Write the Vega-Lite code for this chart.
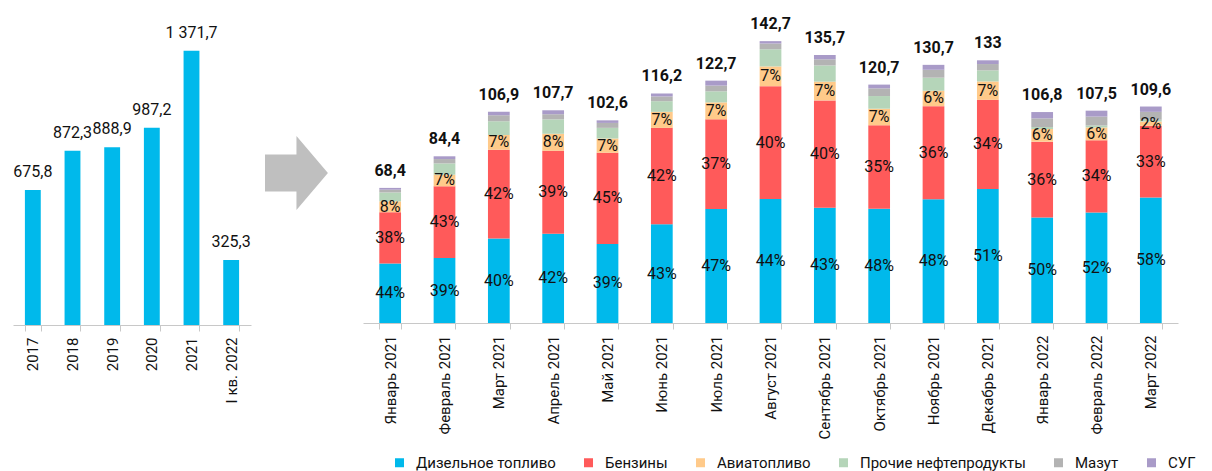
{
  "$schema": "https://vega.github.io/schema/vega-lite/v6.json",
  "padding": {"left": 6, "top": 5, "right": 0, "bottom": 0},
  "background": "white",
  "config": {
    "view": {"stroke": null},
    "font": "Roboto",
    "axis": {"labelFont": "Roboto", "labelFontSize": 15, "labelColor": "#111111", "domainColor": "#C8C8C8", "tickColor": "#C8C8C8", "tickSize": 6, "labelPadding": 6, "grid": false},
    "legend": {"labelFont": "Roboto", "labelFontSize": 15, "labelColor": "#111111", "labelLimit": 0}
  },
  "datasets": {
    "years": [
      {"y": "2017", "v": 675.8, "l": "675,8"},
      {"y": "2018", "v": 872.3, "l": "872,3"},
      {"y": "2019", "v": 888.9, "l": "888,9"},
      {"y": "2020", "v": 987.2, "l": "987,2"},
      {"y": "2021", "v": 1371.7, "l": "1 371,7"},
      {"y": "I кв. 2022", "v": 325.3, "l": "325,3"}
    ],
    "totals": [
      {"m": "Январь 2021", "t": 68.4, "l": "68,4"},
      {"m": "Февраль 2021", "t": 84.4, "l": "84,4"},
      {"m": "Март 2021", "t": 106.9, "l": "106,9"},
      {"m": "Апрель 2021", "t": 107.7, "l": "107,7"},
      {"m": "Май 2021", "t": 102.6, "l": "102,6"},
      {"m": "Июнь 2021", "t": 116.2, "l": "116,2"},
      {"m": "Июль 2021", "t": 122.7, "l": "122,7"},
      {"m": "Август 2021", "t": 142.7, "l": "142,7"},
      {"m": "Сентябрь 2021", "t": 135.7, "l": "135,7"},
      {"m": "Октябрь 2021", "t": 120.7, "l": "120,7"},
      {"m": "Ноябрь 2021", "t": 130.7, "l": "130,7"},
      {"m": "Декабрь 2021", "t": 133, "l": "133"},
      {"m": "Январь 2022", "t": 106.8, "l": "106,8"},
      {"m": "Февраль 2022", "t": 107.5, "l": "107,5"},
      {"m": "Март 2022", "t": 109.6, "l": "109,6"}
    ],
    "seg": [
      {"m": "Январь 2021", "c": "Дизельное топливо", "k": 1, "v": 30.1, "l": "44%"},
      {"m": "Январь 2021", "c": "Бензины", "k": 2, "v": 26.0, "l": "38%"},
      {"m": "Январь 2021", "c": "Авиатопливо", "k": 3, "v": 5.5, "l": "8%"},
      {"m": "Январь 2021", "c": "Прочие нефтепродукты", "k": 4, "v": 4.5, "l": ""},
      {"m": "Январь 2021", "c": "Мазут", "k": 5, "v": 1.4, "l": ""},
      {"m": "Январь 2021", "c": "СУГ", "k": 6, "v": 0.9, "l": ""},
      {"m": "Февраль 2021", "c": "Дизельное топливо", "k": 1, "v": 32.9, "l": "39%"},
      {"m": "Февраль 2021", "c": "Бензины", "k": 2, "v": 36.3, "l": "43%"},
      {"m": "Февраль 2021", "c": "Авиатопливо", "k": 3, "v": 5.9, "l": "7%"},
      {"m": "Февраль 2021", "c": "Прочие нефтепродукты", "k": 4, "v": 5.7, "l": ""},
      {"m": "Февраль 2021", "c": "Мазут", "k": 5, "v": 2.2, "l": ""},
      {"m": "Февраль 2021", "c": "СУГ", "k": 6, "v": 1.4, "l": ""},
      {"m": "Март 2021", "c": "Дизельное топливо", "k": 1, "v": 42.8, "l": "40%"},
      {"m": "Март 2021", "c": "Бензины", "k": 2, "v": 44.9, "l": "42%"},
      {"m": "Март 2021", "c": "Авиатопливо", "k": 3, "v": 7.5, "l": "7%"},
      {"m": "Март 2021", "c": "Прочие нефтепродукты", "k": 4, "v": 7.0, "l": ""},
      {"m": "Март 2021", "c": "Мазут", "k": 5, "v": 3.0, "l": ""},
      {"m": "Март 2021", "c": "СУГ", "k": 6, "v": 1.7, "l": ""},
      {"m": "Апрель 2021", "c": "Дизельное топливо", "k": 1, "v": 45.2, "l": "42%"},
      {"m": "Апрель 2021", "c": "Бензины", "k": 2, "v": 42.0, "l": "39%"},
      {"m": "Апрель 2021", "c": "Авиатопливо", "k": 3, "v": 8.6, "l": "8%"},
      {"m": "Апрель 2021", "c": "Прочие нефтепродукты", "k": 4, "v": 7.3, "l": ""},
      {"m": "Апрель 2021", "c": "Мазут", "k": 5, "v": 2.6, "l": ""},
      {"m": "Апрель 2021", "c": "СУГ", "k": 6, "v": 2.0, "l": ""},
      {"m": "Май 2021", "c": "Дизельное топливо", "k": 1, "v": 40.0, "l": "39%"},
      {"m": "Май 2021", "c": "Бензины", "k": 2, "v": 46.2, "l": "45%"},
      {"m": "Май 2021", "c": "Авиатопливо", "k": 3, "v": 7.2, "l": "7%"},
      {"m": "Май 2021", "c": "Прочие нефтепродукты", "k": 4, "v": 5.4, "l": ""},
      {"m": "Май 2021", "c": "Мазут", "k": 5, "v": 2.5, "l": ""},
      {"m": "Май 2021", "c": "СУГ", "k": 6, "v": 1.3, "l": ""},
      {"m": "Июнь 2021", "c": "Дизельное топливо", "k": 1, "v": 50.0, "l": "43%"},
      {"m": "Июнь 2021", "c": "Бензины", "k": 2, "v": 48.8, "l": "42%"},
      {"m": "Июнь 2021", "c": "Авиатопливо", "k": 3, "v": 8.1, "l": "7%"},
      {"m": "Июнь 2021", "c": "Прочие нефтепродукты", "k": 4, "v": 5.4, "l": ""},
      {"m": "Июнь 2021", "c": "Мазут", "k": 5, "v": 2.4, "l": ""},
      {"m": "Июнь 2021", "c": "СУГ", "k": 6, "v": 1.5, "l": ""},
      {"m": "Июль 2021", "c": "Дизельное топливо", "k": 1, "v": 57.7, "l": "47%"},
      {"m": "Июль 2021", "c": "Бензины", "k": 2, "v": 45.4, "l": "37%"},
      {"m": "Июль 2021", "c": "Авиатопливо", "k": 3, "v": 8.6, "l": "7%"},
      {"m": "Июль 2021", "c": "Прочие нефтепродукты", "k": 4, "v": 5.6, "l": ""},
      {"m": "Июль 2021", "c": "Мазут", "k": 5, "v": 2.9, "l": ""},
      {"m": "Июль 2021", "c": "СУГ", "k": 6, "v": 2.5, "l": ""},
      {"m": "Август 2021", "c": "Дизельное топливо", "k": 1, "v": 62.8, "l": "44%"},
      {"m": "Август 2021", "c": "Бензины", "k": 2, "v": 57.1, "l": "40%"},
      {"m": "Август 2021", "c": "Авиатопливо", "k": 3, "v": 10.0, "l": "7%"},
      {"m": "Август 2021", "c": "Прочие нефтепродукты", "k": 4, "v": 8.7, "l": ""},
      {"m": "Август 2021", "c": "Мазут", "k": 5, "v": 2.9, "l": ""},
      {"m": "Август 2021", "c": "СУГ", "k": 6, "v": 1.2, "l": ""},
      {"m": "Сентябрь 2021", "c": "Дизельное топливо", "k": 1, "v": 58.4, "l": "43%"},
      {"m": "Сентябрь 2021", "c": "Бензины", "k": 2, "v": 54.3, "l": "40%"},
      {"m": "Сентябрь 2021", "c": "Авиатопливо", "k": 3, "v": 9.5, "l": "7%"},
      {"m": "Сентябрь 2021", "c": "Прочие нефтепродукты", "k": 4, "v": 8.2, "l": ""},
      {"m": "Сентябрь 2021", "c": "Мазут", "k": 5, "v": 3.1, "l": ""},
      {"m": "Сентябрь 2021", "c": "СУГ", "k": 6, "v": 2.2, "l": ""},
      {"m": "Октябрь 2021", "c": "Дизельное топливо", "k": 1, "v": 57.9, "l": "48%"},
      {"m": "Октябрь 2021", "c": "Бензины", "k": 2, "v": 42.2, "l": "35%"},
      {"m": "Октябрь 2021", "c": "Авиатопливо", "k": 3, "v": 8.4, "l": "7%"},
      {"m": "Октябрь 2021", "c": "Прочие нефтепродукты", "k": 4, "v": 6.4, "l": ""},
      {"m": "Октябрь 2021", "c": "Мазут", "k": 5, "v": 3.9, "l": ""},
      {"m": "Октябрь 2021", "c": "СУГ", "k": 6, "v": 1.9, "l": ""},
      {"m": "Ноябрь 2021", "c": "Дизельное топливо", "k": 1, "v": 62.7, "l": "48%"},
      {"m": "Ноябрь 2021", "c": "Бензины", "k": 2, "v": 47.1, "l": "36%"},
      {"m": "Ноябрь 2021", "c": "Авиатопливо", "k": 3, "v": 7.8, "l": "6%"},
      {"m": "Ноябрь 2021", "c": "Прочие нефтепродукты", "k": 4, "v": 6.6, "l": ""},
      {"m": "Ноябрь 2021", "c": "Мазут", "k": 5, "v": 4.0, "l": ""},
      {"m": "Ноябрь 2021", "c": "СУГ", "k": 6, "v": 2.5, "l": ""},
      {"m": "Декабрь 2021", "c": "Дизельное топливо", "k": 1, "v": 67.8, "l": "51%"},
      {"m": "Декабрь 2021", "c": "Бензины", "k": 2, "v": 45.2, "l": "34%"},
      {"m": "Декабрь 2021", "c": "Авиатопливо", "k": 3, "v": 9.3, "l": "7%"},
      {"m": "Декабрь 2021", "c": "Прочие нефтепродукты", "k": 4, "v": 5.6, "l": ""},
      {"m": "Декабрь 2021", "c": "Мазут", "k": 5, "v": 3.2, "l": ""},
      {"m": "Декабрь 2021", "c": "СУГ", "k": 6, "v": 1.9, "l": ""},
      {"m": "Январь 2022", "c": "Дизельное топливо", "k": 1, "v": 53.4, "l": "50%"},
      {"m": "Январь 2022", "c": "Бензины", "k": 2, "v": 38.4, "l": "36%"},
      {"m": "Январь 2022", "c": "Авиатопливо", "k": 3, "v": 6.4, "l": "6%"},
      {"m": "Январь 2022", "c": "Прочие нефтепродукты", "k": 4, "v": 1.0, "l": ""},
      {"m": "Январь 2022", "c": "Мазут", "k": 5, "v": 4.4, "l": ""},
      {"m": "Январь 2022", "c": "СУГ", "k": 6, "v": 3.2, "l": ""},
      {"m": "Февраль 2022", "c": "Дизельное топливо", "k": 1, "v": 55.9, "l": "52%"},
      {"m": "Февраль 2022", "c": "Бензины", "k": 2, "v": 36.6, "l": "34%"},
      {"m": "Февраль 2022", "c": "Авиатопливо", "k": 3, "v": 6.5, "l": "6%"},
      {"m": "Февраль 2022", "c": "Прочие нефтепродукты", "k": 4, "v": 1.0, "l": ""},
      {"m": "Февраль 2022", "c": "Мазут", "k": 5, "v": 4.5, "l": ""},
      {"m": "Февраль 2022", "c": "СУГ", "k": 6, "v": 3.0, "l": ""},
      {"m": "Март 2022", "c": "Дизельное топливо", "k": 1, "v": 63.6, "l": "58%"},
      {"m": "Март 2022", "c": "Бензины", "k": 2, "v": 36.2, "l": "33%"},
      {"m": "Март 2022", "c": "Авиатопливо", "k": 3, "v": 2.2, "l": "2%"},
      {"m": "Март 2022", "c": "Прочие нефтепродукты", "k": 4, "v": 0.9, "l": ""},
      {"m": "Март 2022", "c": "Мазут", "k": 5, "v": 4.0, "l": ""},
      {"m": "Март 2022", "c": "СУГ", "k": 6, "v": 2.7, "l": ""}
    ],
    "arrow": [{"ax": 0.433, "ay": 0.472}]
  },
  "hconcat": [
    {
      "width": 238,
      "height": 320,
      "data": {"name": "years"},
      "encoding": {
        "x": {"field": "y", "type": "nominal", "sort": null, "title": null,
              "scale": {"paddingInner": 0.6, "paddingOuter": 0.3},
              "axis": {"labelAngle": -90, "tickBand": "extent", "labelBaseline": "middle", "labelAlign": "right"}},
        "y": {"field": "v", "type": "quantitative", "scale": {"domain": [0, 1601]}, "axis": null}
      },
      "layer": [
        {"mark": {"type": "bar", "color": "#00B9EB"}},
        {"mark": {"type": "text", "baseline": "middle", "dy": -18, "fontSize": 16, "color": "#111111"},
         "encoding": {"text": {"field": "l"}}}
      ]
    },
    {
      "width": 105,
      "height": 318,
      "data": {"name": "arrow"},
      "mark": {"type": "point", "filled": true, "opacity": 1, "color": "#BFBFBF", "size": 5476,
               "shape": "M-0.85,-0.5 L0,-0.5 L0,-1 L0.85,0 L0,1 L0,0.5 L-0.85,0.5 Z"},
      "encoding": {
        "x": {"field": "ax", "type": "quantitative", "scale": {"domain": [0, 1]}, "axis": null},
        "y": {"field": "ay", "type": "quantitative", "scale": {"domain": [0, 1]}, "axis": null}
      }
    },
    {
      "width": 815,
      "height": 318,
      "encoding": {
        "x": {"field": "m", "type": "nominal", "title": null,
              "scale": {"domain": ["Январь 2021", "Февраль 2021", "Март 2021", "Апрель 2021", "Май 2021", "Июнь 2021", "Июль 2021", "Август 2021", "Сентябрь 2021", "Октябрь 2021", "Ноябрь 2021", "Декабрь 2021", "Январь 2022", "Февраль 2022", "Март 2022"],
                        "paddingInner": 0.6, "paddingOuter": 0.3},
              "axis": {"labelAngle": -90, "tickBand": "extent", "labelBaseline": "middle", "labelAlign": "right"}}
      },
      "layer": [
        {
          "data": {"name": "seg"},
          "transform": [
            {"stack": "v", "groupby": ["m"], "sort": [{"field": "k", "order": "ascending"}], "as": ["y0", "y1"]}
          ],
          "mark": {"type": "bar"},
          "encoding": {
            "y": {"field": "y0", "type": "quantitative", "scale": {"domain": [0, 161]}, "axis": null},
            "y2": {"field": "y1"},
            "color": {"field": "c", "type": "nominal", "title": null,
                      "scale": {"domain": ["Дизельное топливо", "Бензины", "Авиатопливо", "Прочие нефтепродукты", "Мазут", "СУГ"],
                                "range": ["#00B9EB", "#FF5A5A", "#FFCA8A", "#B5D5B9", "#B3B3B3", "#A99BC8"]},
                      "legend": {"orient": "none", "direction": "horizontal", "legendX": 379, "legendY": 450,
                                 "symbolType": "square", "symbolSize": 81, "symbolStrokeWidth": 0,
                                 "labelOffset": 9, "columnPadding": 25, "padding": 0}}
          }
        },
        {
          "data": {"name": "seg"},
          "transform": [
            {"stack": "v", "groupby": ["m"], "sort": [{"field": "k", "order": "ascending"}], "as": ["y0", "y1"]},
            {"filter": "datum.l != ''"},
            {"calculate": "(datum.y0 + datum.y1) / 2", "as": "mid"}
          ],
          "mark": {"type": "text", "baseline": "middle", "fontSize": 16, "color": "#111111"},
          "encoding": {
            "y": {"field": "mid", "type": "quantitative", "scale": {"domain": [0, 161]}, "axis": null},
            "text": {"field": "l"}
          }
        },
        {
          "data": {"name": "totals"},
          "mark": {"type": "text", "baseline": "middle", "dy": -17, "fontSize": 16, "fontWeight": "bold", "color": "#111111"},
          "encoding": {
            "y": {"field": "t", "type": "quantitative", "scale": {"domain": [0, 161]}, "axis": null},
            "text": {"field": "l"}
          }
        }
      ]
    }
  ],
  "spacing": 0
}
